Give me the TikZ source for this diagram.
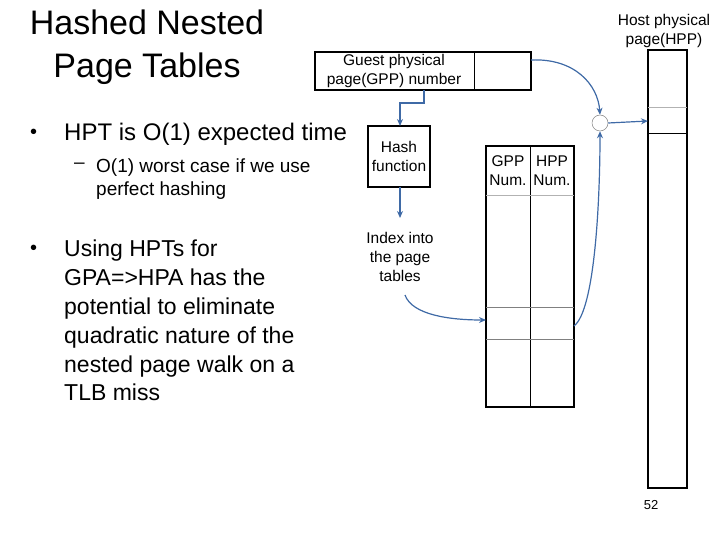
\documentclass[tikz,border=0pt]{standalone}
\usepackage{fontspec}
\setmainfont{Liberation Sans}
\usetikzlibrary{arrows.meta}
\definecolor{arr}{HTML}{3F6AA6}
\begin{document}
\begin{tikzpicture}[x=1pt,y=-1pt,
  box/.style={draw,line width=1.6pt},
  thin/.style={draw,line width=0.6pt},
  lite/.style={draw=gray!60,line width=0.6pt},
  conn/.style={draw=arr,line width=1.2pt,-{Stealth[length=7pt,width=6pt]}},
  dtext/.style={font=\fontsize{15.5}{19}\selectfont,align=center,inner sep=0pt},
  ltext/.style={anchor=west,inner sep=0pt,align=left}]
\useasboundingbox (0,0) rectangle (720,540);
% title
\node[inner sep=0pt,align=center,font=\fontsize{34}{43}\selectfont] (title) at (147,47) {Hashed Nested\\Page Tables};
% bullets
\node[ltext,font=\fontsize{20}{24}\selectfont] (d1) at (30,134) {•};
\node[ltext,font=\fontsize{24}{24}\selectfont] (b1) at (64,134) {HPT is O(1) expected time};
\node[ltext,font=\fontsize{19}{23}\selectfont] (d2) at (74,166) {–};
\node[ltext,font=\fontsize{19}{23}\selectfont,anchor=north west] (s1) at (96,159) {O(1) worst case if we use\\perfect hashing};
\node[ltext,font=\fontsize{20}{24}\selectfont] (d3) at (30,250) {•};
\node[ltext,font=\fontsize{23}{28.8}\selectfont,anchor=north west] (b2) at (64,240) {Using HPTs for\\GPA=>HPA has the\\potential to eliminate\\quadratic nature of the\\nested page walk on a\\TLB miss};
% guest box
\draw[box] (315,52) rectangle (531,90);
\draw[thin] (474,52) -- (474,90);
\node[dtext] (gpp) at (394,71) {Guest physical\\page(GPP) number};
\coordinate (gright) at (531,60);
\coordinate (gbot) at (424,90);
% hash
\draw[box] (368,126) rectangle (430,187);
\node[dtext] (hash) at (399,156) {Hash\\function};
\coordinate (htop) at (400,126);
\coordinate (hbot) at (400,187);
\node[dtext] (index) at (400,257) {Index into\\the page\\tables};
\draw[conn] (gbot) -- (424,103) -- (400,103) -- (htop);
\draw[conn] (hbot) -- (400,218);
% table
\draw[box] (486,146) rectangle (574,407);
\draw[thin] (530,146) -- (530,407);
\draw[lite] (486,195) -- (574,195);
\draw[draw=gray,line width=0.6pt] (486,307) -- (574,307);
\draw[draw=gray,line width=0.9pt] (486,339) -- (574,339);
\node[dtext] (gppn) at (508,171) {GPP\\Num.};
\node[dtext] (hppn) at (552,171) {HPP\\Num.};
\coordinate (tright) at (574,326);
\coordinate (tleft) at (486,320);
% host column
\draw[box] (648,50) rectangle (687,488);
\draw[lite] (648,107) -- (687,107);
\draw[thin] (648,133) -- (687,133);
\node[dtext] (host) at (664,31) {Host physical\\page(HPP)};
\coordinate (hleft) at (648,121);
% circle
\node[circle,draw=gray,line width=0.5pt,minimum size=16pt,inner sep=0pt] (c) at (600,123) {};
% connectors
\draw[conn] (gright) .. controls (575,58) and (598,85) .. (c.north);
\draw[conn] (tright) .. controls (595,310) and (600,200) .. (c.south);
\draw[conn] (c.east) -- (hleft);
\draw[conn] (405,295) .. controls (412,315) and (450,320) .. (tleft);
% page number
\node[inner sep=0pt,font=\fontsize{13}{14}\selectfont] (pn) at (651,505) {52};
\end{tikzpicture}
\end{document}
